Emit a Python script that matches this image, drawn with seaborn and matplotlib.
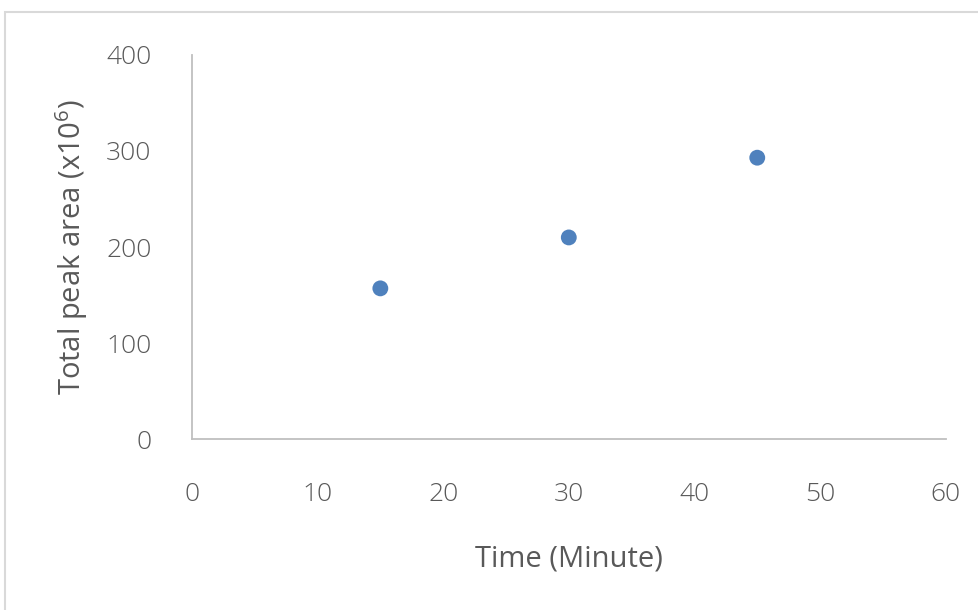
import matplotlib
matplotlib.use("Agg")
import matplotlib.pyplot as plt
import seaborn as sns
import pandas as pd

# data
time_min = [15, 30, 45]
peak_area = [157, 210, 293]
x_ticks = [0, 10, 20, 30, 40, 50, 60]
y_ticks = [0, 100, 200, 300, 400]

df = pd.DataFrame({"Time": time_min, "Area": peak_area})

sns.set_theme(style="white")
plt.rcParams["font.family"] = ["Open Sans", "DejaVu Sans"]
plt.rcParams["mathtext.default"] = "regular"

text_col = "#595959"
fig = plt.figure(figsize=(9.79, 6.10), dpi=100)
ax = fig.add_axes([0.196, 0.280, 0.770, 0.630])

sns.scatterplot(data=df, x="Time", y="Area", ax=ax, s=130, color="#4F81BD",
                edgecolor="none", legend=False)

ax.set_xlim(0, 60)
ax.set_ylim(0, 400)
ax.set_xticks(x_ticks)
ax.set_yticks(y_ticks)
ax.tick_params(axis="both", length=0, labelsize=19, labelcolor=text_col)
ax.tick_params(axis="x", pad=31)
ax.tick_params(axis="y", pad=29)
for lbl in ax.get_xticklabels() + ax.get_yticklabels():
    lbl.set_fontweight("light")

for side in ["top", "right"]:
    ax.spines[side].set_visible(False)
for side in ["left", "bottom"]:
    ax.spines[side].set_color("#BFBFBF")
    ax.spines[side].set_linewidth(1.3)

ax.set_xlabel("Time (Minute)", fontsize=21, color=text_col, labelpad=27)
ax.set_ylabel("Total peak area (x10$^{6}$)", fontsize=21, color=text_col, labelpad=12)

# outer frame like the pasted chart area
frame = plt.Rectangle((0.005, -0.01), 1.2, 0.99, transform=fig.transFigure,
                      fill=False, edgecolor="#D9D9D9", linewidth=1.5)
fig.patches.append(frame)

fig.savefig("out.png", dpi=100)
